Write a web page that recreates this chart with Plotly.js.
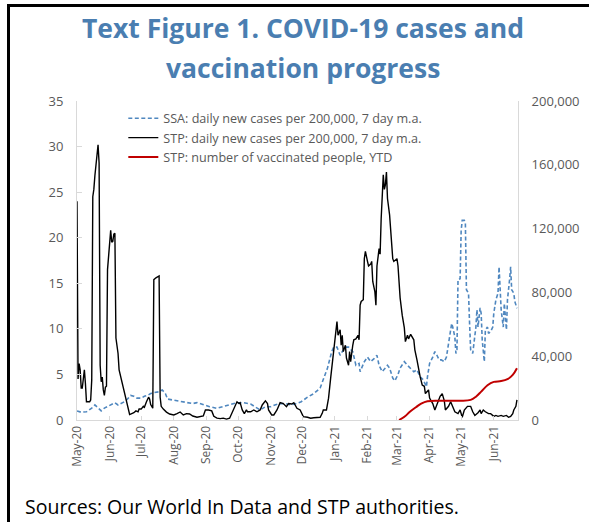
<!DOCTYPE html>
<html>
<head>
<meta charset="utf-8">
<script src="https://cdn.plot.ly/plotly-3.0.1.min.js"></script>
<style>
  html, body { margin: 0; padding: 0; background: #fff; }
  #wrap { position: relative; width: 589px; height: 522px; overflow: hidden; }
  #chart { width: 589px; height: 522px; }
  #frame { position: absolute; left: 7px; top: 4px; width: 600px; height: 600px;
           border-left: 3px solid #000; border-top: 3px solid #000; pointer-events: none; }
</style>
</head>
<body>
<div id="wrap">
  <div id="chart"></div>
  <div id="frame"></div>
</div>
<script>
// ---- Data ----
const stpDates = [
 '2020-05-01','2020-05-02','2020-05-03','2020-05-04','2020-05-05','2020-05-06','2020-05-07','2020-05-08','2020-05-09','2020-05-10',
 '2020-05-11','2020-05-13','2020-05-14','2020-05-15','2020-05-16','2020-05-17','2020-05-18','2020-05-19','2020-05-20','2020-05-21',
 '2020-05-22','2020-05-23','2020-05-24','2020-05-25','2020-05-26','2020-05-27','2020-05-28','2020-05-29','2020-05-30','2020-05-31',
 '2020-06-01','2020-06-02','2020-06-03','2020-06-04','2020-06-05','2020-06-06','2020-06-07','2020-06-08','2020-06-09','2020-06-10',
 '2020-06-11','2020-06-12','2020-06-13','2020-06-14','2020-06-15','2020-06-16','2020-06-17','2020-06-18','2020-06-19','2020-06-20',
 '2020-06-22','2020-06-24','2020-06-26','2020-06-28','2020-06-29','2020-07-01','2020-07-03','2020-07-04','2020-07-06','2020-07-08',
 '2020-07-09','2020-07-10','2020-07-12','2020-07-13','2020-07-15','2020-07-17','2020-07-18','2020-07-19','2020-07-20','2020-07-22',
 '2020-07-24','2020-07-25','2020-07-28','2020-08-01','2020-08-04','2020-08-07','2020-08-10','2020-08-13','2020-08-16','2020-08-19',
 '2020-08-23','2020-08-26','2020-08-29','2020-08-31','2020-09-03','2020-09-06','2020-09-08','2020-09-11','2020-09-14','2020-09-17',
 '2020-09-20','2020-09-23','2020-09-25','2020-09-27','2020-09-29','2020-09-30','2020-10-02','2020-10-03','2020-10-05','2020-10-07',
 '2020-10-09','2020-10-10','2020-10-13','2020-10-16','2020-10-19','2020-10-22','2020-10-24','2020-10-25','2020-10-27','2020-10-29',
 '2020-10-30','2020-11-02','2020-11-04','2020-11-07','2020-11-09','2020-11-10','2020-11-13','2020-11-14','2020-11-16','2020-11-18',
 '2020-11-21','2020-11-23','2020-11-25','2020-11-26','2020-11-29','2020-12-01','2020-12-02','2020-12-06','2020-12-09','2020-12-12',
 '2020-12-15','2020-12-18','2020-12-20','2020-12-21','2020-12-24','2020-12-26','2020-12-28','2020-12-29','2020-12-31','2021-01-02',
 '2021-01-03','2021-01-04','2021-01-06','2021-01-07','2021-01-08','2021-01-09','2021-01-11','2021-01-12','2021-01-14','2021-01-15',
 '2021-01-16','2021-01-18','2021-01-19','2021-01-21','2021-01-23','2021-01-24','2021-01-25','2021-01-26','2021-01-28','2021-01-29',
 '2021-01-30','2021-02-01','2021-02-02','2021-02-04','2021-02-05','2021-02-06','2021-02-08','2021-02-09','2021-02-10','2021-02-12',
 '2021-02-13','2021-02-14','2021-02-15','2021-02-16','2021-02-17','2021-02-18','2021-02-19','2021-02-20','2021-02-22','2021-02-23',
 '2021-02-25','2021-02-26','2021-03-01','2021-03-02','2021-03-04','2021-03-06','2021-03-08','2021-03-09','2021-03-11','2021-03-12',
 '2021-03-14','2021-03-17','2021-03-18','2021-03-20','2021-03-21','2021-03-23','2021-03-25','2021-03-27','2021-03-28','2021-03-31',
 '2021-04-01','2021-04-04','2021-04-06','2021-04-09','2021-04-11','2021-04-13','2021-04-15','2021-04-16','2021-04-19','2021-04-21',
 '2021-04-23','2021-04-25','2021-04-28','2021-04-30','2021-05-02','2021-05-04','2021-05-07','2021-05-10','2021-05-12','2021-05-14',
 '2021-05-17','2021-05-19','2021-05-20','2021-05-22','2021-05-24','2021-05-27','2021-05-29','2021-06-01','2021-06-03','2021-06-05',
 '2021-06-08','2021-06-10','2021-06-13','2021-06-15','2021-06-17','2021-06-19','2021-06-20','2021-06-22','2021-06-23'
];
const stpCases = [
 24,4.5,6.2,5.5,3.5,3.5,4.5,5.5,4,2,
 2,2,2.2,4.4,24.5,25.3,26.8,28,29.3,30.2,
 28.2,6,4.2,4.7,3.3,2.7,3.6,3.7,16.5,18,
 19,20.8,19.5,19.6,20.4,20.5,9,8,7.3,5.5,
 5,4.7,4,3.6,3,2.5,2.2,1.6,1.0,0.6,
 0.7,0.8,1.0,0.9,1.2,1.2,1.5,1.4,2.0,2.5,
 2.3,1.7,1.3,15.4,15.6,15.7,15.8,2.5,1.5,1.2,
 0.9,0.87,0.66,0.55,0.7,0.88,0.55,0.7,0.66,0.44,
 0.3,0.33,0.44,1.1,1.1,1.0,0.4,0.2,0.15,0.2,
 0.1,0.2,0.7,1.3,1.8,2.0,1.8,1.9,1.1,0.7,
 1.1,0.9,0.9,1.1,0.9,1.1,1.65,1.8,2.1,1.8,
 1.1,0.55,0.55,1.1,1.65,1.9,1.8,1.65,1.46,1.8,
 1.75,1.9,1.46,1.28,1.1,0.55,0.37,0.3,0.2,0.25,
 0.3,0.3,0.73,1.1,1.1,2.4,4.6,5.7,8.2,10.4,
 10.8,9.3,9.9,8.2,9.3,7.5,8.2,6.8,6.0,7.5,
 6.4,8.2,8.8,8.9,9.3,8.8,12.6,13.0,13.2,17.7,
 18.5,17.4,16.9,17.1,17.4,15.2,14.1,12.6,16.9,18.8,
 18.2,22.1,24.7,26.9,25.3,25.8,27.2,24.3,22.5,20.7,
 17.7,17.4,17.7,16.9,13.4,11.5,10.1,8.6,9.3,8.9,
 9.4,8.8,7.7,6.6,5.9,4.75,3.84,3.7,2.9,3.3,
 2.4,1.8,1.1,2.0,2.6,2.9,2.1,1.1,1.5,2.0,
 1.5,0.9,0.7,1.1,0.3,1.1,1.5,1.5,0.9,0.5,
 0.8,1.1,0.7,1.1,0.9,0.7,0.7,0.4,0.5,0.4,
 0.5,0.4,0.5,0.3,0.4,0.7,1.1,1.5,2.2
];

const ssaDates = [
 '2020-05-01','2020-05-05','2020-05-10','2020-05-15','2020-05-18','2020-05-21','2020-05-24','2020-05-27','2020-05-30','2020-06-03',
 '2020-06-06','2020-06-09','2020-06-12','2020-06-15','2020-06-18','2020-06-21','2020-06-24','2020-06-27','2020-07-01','2020-07-04',
 '2020-07-07','2020-07-10','2020-07-13','2020-07-18','2020-07-21','2020-07-24','2020-07-26','2020-07-31','2020-08-07','2020-08-13',
 '2020-08-19','2020-08-23','2020-08-29','2020-09-04','2020-09-11','2020-09-17','2020-09-23','2020-09-30','2020-10-06','2020-10-13',
 '2020-10-17','2020-10-22','2020-10-27','2020-11-01','2020-11-05','2020-11-10','2020-11-15','2020-11-20','2020-11-25','2020-11-30',
 '2020-12-06','2020-12-12','2020-12-18','2020-12-25','2020-12-29','2020-12-31','2021-01-03','2021-01-06','2021-01-08','2021-01-11',
 '2021-01-14','2021-01-18','2021-01-21','2021-01-24','2021-01-25','2021-01-29','2021-02-01','2021-02-04','2021-02-07','2021-02-10',
 '2021-02-12','2021-02-15','2021-02-18','2021-02-20','2021-02-22','2021-02-25','2021-02-27','2021-03-02','2021-03-04','2021-03-08',
 '2021-03-11','2021-03-14','2021-03-17','2021-03-20','2021-03-23','2021-03-26','2021-03-29','2021-03-30','2021-04-01','2021-04-04',
 '2021-04-06','2021-04-08','2021-04-10','2021-04-12','2021-04-15','2021-04-17','2021-04-19','2021-04-20','2021-04-22','2021-04-23',
 '2021-04-25','2021-04-26','2021-04-27','2021-04-28','2021-04-30','2021-05-01','2021-05-02','2021-05-04','2021-05-05','2021-05-06',
 '2021-05-08','2021-05-09','2021-05-10','2021-05-12','2021-05-13','2021-05-15','2021-05-16','2021-05-17','2021-05-19','2021-05-20',
 '2021-05-21','2021-05-23','2021-05-24','2021-05-26','2021-05-27','2021-05-29','2021-05-31','2021-06-01','2021-06-03','2021-06-05',
 '2021-06-06','2021-06-07','2021-06-08','2021-06-10','2021-06-11','2021-06-13','2021-06-14','2021-06-16','2021-06-17','2021-06-18',
 '2021-06-20','2021-06-21','2021-06-23'
];
const ssaCases = [
 1.0,0.85,0.9,1.3,1.65,1.3,1.0,1.3,1.46,1.65,
 1.9,1.65,1.8,2.0,2.3,2.7,2.6,2.4,2.4,2.6,
 2.7,2.9,3.0,3.1,3.3,2.9,2.3,2.2,2.1,2.0,
 1.8,1.9,1.65,1.46,1.28,1.46,1.65,1.9,1.9,1.75,
 1.46,1.1,1.46,1.46,1.65,1.8,1.8,1.65,1.8,2.0,
 2.5,2.9,3.5,5.7,7.5,8.0,8.0,7.1,7.5,8.0,
 8.0,7.5,6.0,6.2,5.3,6.4,6.9,6.4,6.7,7.1,
 6.0,5.3,5.7,6.0,5.7,4.6,4.3,5.0,5.7,6.4,
 6.0,5.7,5.3,5.5,4.75,4.4,3.65,4.75,6.2,6.9,
 7.5,7.1,6.6,6.6,6.4,6.9,8.4,9.1,10.6,10.2,
 9.1,7.3,7.7,15.4,15.5,20.8,21.9,21.9,21.6,14.3,
 13.9,10.6,7.7,7.3,8.1,10.2,12.1,10.2,12.3,11.7,
 8.8,6.4,9.9,10.2,9.5,9.7,10.2,11.7,13.2,13.9,
 16.8,13.2,12.1,10.2,12.8,9.9,13.2,15.4,16.8,14.3,
 13.9,13.0,12.25
];

const vacDates = [
 '2021-03-03','2021-03-09','2021-03-13','2021-03-19','2021-03-24','2021-03-30','2021-04-15','2021-04-30','2021-05-10','2021-05-15',
 '2021-05-20','2021-05-26','2021-06-01','2021-06-08','2021-06-14','2021-06-19','2021-06-23'
];
const vacPeople = [
 0,2500,5000,8000,10300,11800,12000,12100,12600,14600,
 17800,21800,23900,24400,25600,28300,32500
];

const leftTicks = [0,5,10,15,20,25,30,35];
const rightTicks = [0,40000,80000,120000,160000,200000];
const xStart = '2020-05-01';
const xEnd = '2021-06-24';

const titleLines = ['Text Figure 1. COVID-19 cases and', 'vaccination progress'];
const sourceText = 'Sources: Our World In Data and STP authorities.';
const seriesNames = [
 'SSA: daily new cases per 200,000, 7 day m.a.',
 'STP: daily new cases per 200,000, 7 day m.a.',
 'STP: number of vaccinated people, YTD'
];

// ---- Traces ----
const traces = [
 { x: ssaDates, y: ssaCases, name: seriesNames[0], type: 'scatter', mode: 'lines',
   line: { color: '#4f87bf', width: 1.6, dash: '4px,2.5px' }, yaxis: 'y' },
 { x: stpDates, y: stpCases, name: seriesNames[1], type: 'scatter', mode: 'lines',
   line: { color: '#000000', width: 1.4 }, yaxis: 'y' },
 { x: vacDates, y: vacPeople, name: seriesNames[2], type: 'scatter', mode: 'lines',
   line: { color: '#c00000', width: 2, shape: 'spline' }, yaxis: 'y2' }
];

const fontFam = '"Open Sans", "Noto Sans", sans-serif';
const titleFont = { family: fontFam, size: 26.5, color: '#4a7eb1', weight: 'bold' };
const layout = {
  width: 589, height: 522,
  margin: { l: 77, r: 71, t: 101, b: 102 },
  paper_bgcolor: '#ffffff', plot_bgcolor: '#ffffff',
  font: { family: fontFam, color: '#595959', size: 12 },
  showlegend: true,
  xaxis: {
    type: 'date', range: [xStart, xEnd],
    dtick: 'M1', tick0: '2020-05-01', tickformat: '%b-%y', tickangle: -90,
    showgrid: false, zeroline: false,
    showline: true, linecolor: '#d9d9d9', linewidth: 1,
    ticks: 'inside', ticklen: 4, tickcolor: '#d9d9d9',
    tickfont: { size: 12, color: '#595959' }
  },
  yaxis: {
    range: [0, 35], tickvals: leftTicks, ticktext: leftTicks.map(String),
    showgrid: false, zeroline: false,
    showline: true, linecolor: '#d9d9d9', linewidth: 1,
    ticks: 'inside', ticklen: 5, tickcolor: '#d9d9d9',
    ticklabelstandoff: 10,
    tickfont: { size: 13, color: '#595959' }
  },
  yaxis2: {
    range: [0, 200000], overlaying: 'y', side: 'right',
    tickvals: rightTicks, ticktext: rightTicks.map(v => v.toLocaleString('en-US')),
    showgrid: false, zeroline: false,
    showline: true, linecolor: '#d9d9d9', linewidth: 1,
    ticks: '', ticklabelstandoff: 10,
    tickfont: { size: 13, color: '#595959' }
  },
  legend: {
    x: 0.105, y: 0.992, xanchor: 'left', yanchor: 'top',
    bgcolor: 'rgba(0,0,0,0)', borderwidth: 0,
    font: { size: 12.6, color: '#595959', family: fontFam },
    itemwidth: 30, tracegroupgap: 0
  },
  annotations: [
    { text: titleLines[0], xref: 'paper', yref: 'paper', x: 0.513, y: 1.229,
      xanchor: 'center', yanchor: 'middle', showarrow: false, font: titleFont },
    { text: titleLines[1], xref: 'paper', yref: 'paper', x: 0.513, y: 1.103,
      xanchor: 'center', yanchor: 'middle', showarrow: false, font: titleFont },
    { text: sourceText, xref: 'paper', yref: 'paper', x: -0.122, y: -0.272,
      xanchor: 'left', yanchor: 'middle', showarrow: false,
      font: { family: fontFam, size: 19.5, color: '#000000' } }
  ]
};

Plotly.newPlot('chart', traces, layout, { displayModeBar: false, staticPlot: true });
</script>
</body>
</html>
